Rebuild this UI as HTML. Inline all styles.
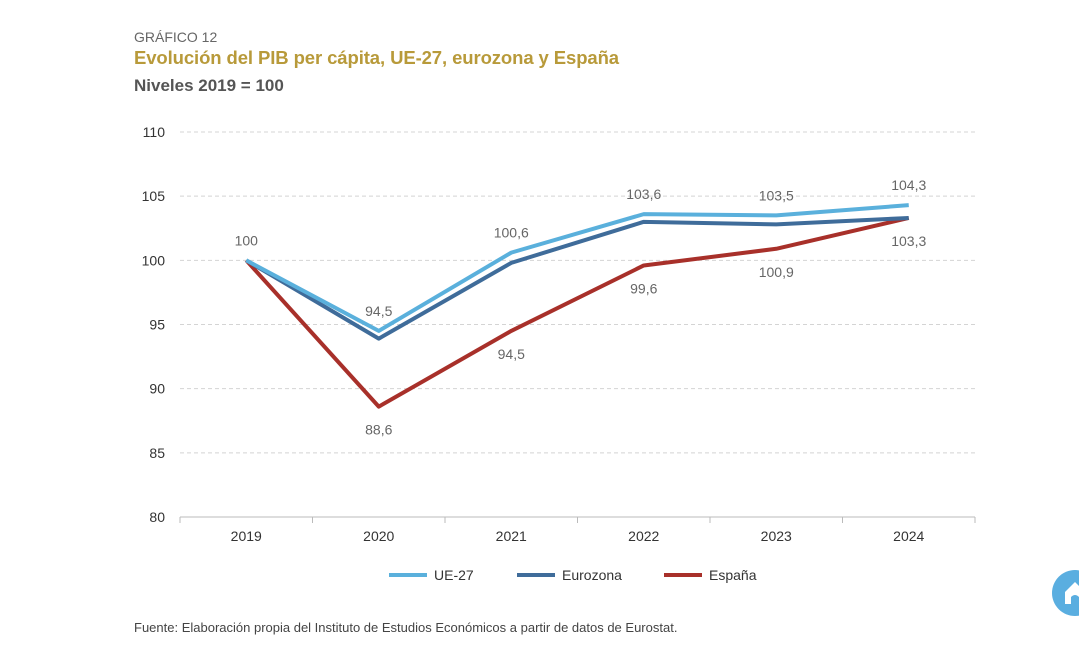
<!DOCTYPE html>
<html><head><meta charset="utf-8"><style>
body{margin:0;background:#fff;width:1079px;height:661px;overflow:hidden;font-family:"Liberation Sans",sans-serif;position:relative}
.t{position:absolute;white-space:nowrap}
</style></head><body>
<div class="t" style="left:134px;top:29px;font-size:14px;color:#666">GRÁFICO 12</div>
<div class="t" style="left:134px;top:47px;font-size:18.5px;letter-spacing:-0.1px;font-weight:bold;color:#b89a3a">Evolución del PIB per cápita, UE-27, eurozona y España</div>
<div class="t" style="left:134px;top:76px;font-size:17px;font-weight:bold;color:#555">Niveles 2019 = 100</div>
<svg id="c" width="1079" height="661" style="position:absolute;left:0;top:0"></svg>
<div class="t" style="left:134px;top:620px;font-size:13px;color:#444">Fuente: Elaboración propia del Instituto de Estudios Económicos a partir de datos de Eurostat.</div>
<div style="position:absolute;left:1052px;top:570px;width:46px;height:46px;border-radius:50%;background:#5aaee0"><svg width="46" height="46"><path d="M13 22 L23 12 L33 22 L33 34 L27 34 L27 27 Q23 23 19 27 L19 34 L13 34Z" fill="#fff"/></svg></div>
<script>
const categories=["2019","2020","2021","2022","2023","2024"];
const ue27=[100,94.5,100.6,103.6,103.5,104.3];
const eurozona=[100,93.9,99.8,103.0,102.8,103.3];
const espana=[100,88.6,94.5,99.6,100.9,103.3];
const yTicks=[80,85,90,95,100,105,110];
const ueLabels=["100","94,5","100,6","103,6","103,5","104,3"];
const esLabels=["","88,6","94,5","99,6","100,9","103,3"];
const NS="http://www.w3.org/2000/svg",svg=document.getElementById('c');
const x0=180,x1=975,y0=517,y1=132,bw=(x1-x0)/categories.length;
const X=i=>x0+bw*(i+0.5), Y=v=>y0-(v-80)/30*(y0-y1);
function mk(t,a){const e=document.createElementNS(NS,t);for(const k in a)e.setAttribute(k,a[k]);svg.appendChild(e);return e;}
yTicks.forEach(v=>{
 if(v>80){const g=mk('line',{x1:x0,x2:x1,y1:Y(v),y2:Y(v),stroke:'#d4d4d4','stroke-dasharray':'4,3'});
 
 }
 const t=mk('text',{x:165,y:Y(v)+5,'text-anchor':'end','font-size':14,fill:'#333'});t.textContent=v;
 
 
});
const ax=mk('line',{x1:x0,x2:x1,y1:y0,y2:y0,stroke:'#bbb'});


for(let i=0;i<=categories.length;i++){const tk=mk('line',{x1:x0+bw*i,x2:x0+bw*i,y1:y0,y2:y0+6,stroke:'#bbb'});
 
 }
categories.forEach((c,i)=>{const t=mk('text',{x:X(i),y:541,'text-anchor':'middle','font-size':14,fill:'#333'});t.textContent=c;
 
 });
function line(d,col,name){const p=mk('polyline',{points:d.map((v,i)=>X(i)+','+Y(v)).join(' '),fill:'none',stroke:col,'stroke-width':4,'stroke-linejoin':'round'});
 
 }
line(espana,'#a8302a','line-espana');
line(eurozona,'#3f6c9a','line-eurozona');
line(ue27,'#5ab0dc','line-ue27');
ueLabels.forEach((l,i)=>{const t=mk('text',{x:X(i),y:Y(ue27[i])-15,'text-anchor':'middle','font-size':14,fill:'#666'});t.textContent=l;
 
 });
esLabels.forEach((l,i)=>{if(!l)return;const t=mk('text',{x:X(i),y:Y(espana[i])+28,'text-anchor':'middle','font-size':14,fill:'#666'});t.textContent=l;
 
 });
[["UE-27",'#5ab0dc',389],["Eurozona",'#3f6c9a',517],["España",'#a8302a',664]].forEach(([n,c,x])=>{
 const l=mk('line',{x1:x,x2:x+38,y1:575,y2:575,stroke:c,'stroke-width':4});
 
 
 const t=mk('text',{x:x+45,y:580,'font-size':14,fill:'#333'});t.textContent=n;
 
 
});
</script>
</body></html>
